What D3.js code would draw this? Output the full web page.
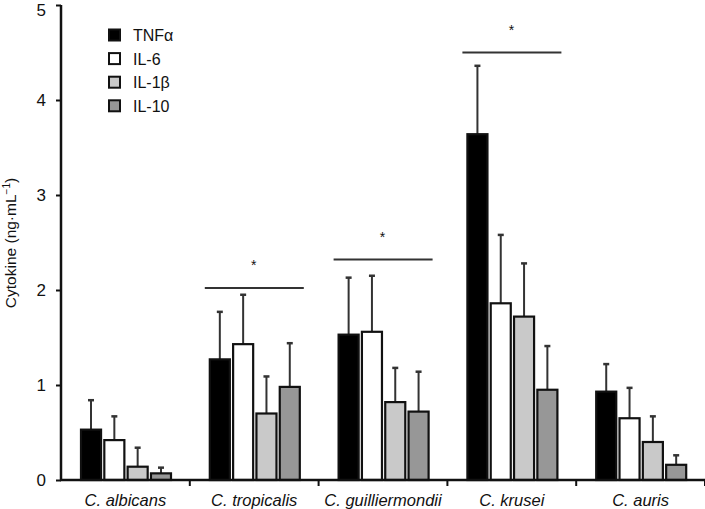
<!DOCTYPE html>
<html><head><meta charset="utf-8">
<script src="https://cdn.jsdelivr.net/npm/d3@7"></script>
<style>body{margin:0;background:#fff}svg{display:block}text{font-family:"Liberation Sans",Arial,sans-serif;fill:#111}</style>
</head><body><div id="chart"></div>
<script>
const categories = ["C. albicans","C. tropicalis","C. guilliermondii","C. krusei","C. auris"];
const seriesNames = ["TNFα","IL-6","IL-1β","IL-10"];
const seriesColors = ["#000000","#ffffff","#c9c9c9","#979797"];
const TNF = [0.53,1.27,1.53,3.64,0.93];
const IL6 = [0.42,1.43,1.56,1.86,0.65];
const IL1b = [0.14,0.70,0.82,1.72,0.40];
const IL10 = [0.07,0.98,0.72,0.95,0.16];
const TNFerr = [0.84,1.77,2.13,4.36,1.22];
const IL6err = [0.67,1.95,2.15,2.58,0.97];
const IL1berr = [0.34,1.09,1.18,2.28,0.67];
const IL10err = [0.13,1.44,1.14,1.41,0.26];
const sigCats = ["C. tropicalis","C. guilliermondii","C. krusei"];
const sigLevels = [2.02,2.32,4.50];
const yTicks = [0,1,2,3,4,5];

const values = [TNF,IL6,IL1b,IL10];
const errTops = [TNFerr,IL6err,IL1berr,IL10err];

const W=705,H=509;
const svg=d3.select("#chart").append("svg").attr("width",W).attr("height",H);
const x=d3.scaleBand().domain(categories).range([61,705]).padding(0);
const xi=d3.scaleBand().domain(seriesNames).range([20,110]).paddingInner(0.14);
const y=d3.scaleLinear().domain([0,5]).range([480,5]);

// bars
seriesNames.forEach((s,si)=>{
  const g=svg.append("g");
  categories.forEach((c,ci)=>{
    const bx=x(c)+xi(s), bw=xi.bandwidth();
    const cx=bx+bw/2;
    g.append("line").attr("x1",cx).attr("x2",cx).attr("y1",y(values[si][ci])).attr("y2",y(errTops[si][ci]))
      .attr("stroke","#333").attr("stroke-width",2);
    g.append("line").attr("x1",cx-3).attr("x2",cx+3).attr("y1",y(errTops[si][ci])).attr("y2",y(errTops[si][ci]))
      .attr("stroke","#333").attr("stroke-width",2.5);
    g.append("rect").attr("x",bx).attr("y",y(values[si][ci])).attr("width",bw).attr("height",y(0)-y(values[si][ci]))
      .attr("fill",seriesColors[si]).attr("stroke","#111").attr("stroke-width",2.2);
  });
});

// significance
sigCats.forEach((c,i)=>{
  svg.append("line").attr("x1",x(c)+15).attr("x2",x(c)+114).attr("y1",y(sigLevels[i])).attr("y2",y(sigLevels[i]))
    .attr("stroke","#333").attr("stroke-width",2);
  svg.append("text").attr("x",x(c)+64).attr("y",y(sigLevels[i])-18).attr("text-anchor","middle")
    .attr("font-size",14).text("*");
});

// y axis
const ya=svg.append("g").attr("transform","translate(61,0)")
  .call(d3.axisLeft(y).tickValues(yTicks).tickSize(5).tickPadding(10).tickFormat(d3.format("d")));
ya.select(".domain").attr("stroke","#111").attr("stroke-width",2.5).attr("d","M0,"+y(5)+"V"+y(0));
ya.selectAll(".tick line").attr("stroke","#111").attr("stroke-width",2);
ya.selectAll(".tick text").attr("font-size",17).attr("fill","#111").attr("font-family","Liberation Sans, Arial, sans-serif")
  .attr("dy",d=>d===5?"0.62em":"0.32em");

// x axis
const xa=svg.append("g").attr("transform","translate(0,"+y(0)+")")
  .call(d3.axisBottom(x).tickSize(0).tickPadding(14));
xa.select(".domain").attr("stroke","#111").attr("stroke-width",2.5).attr("d","M60,0H705");
xa.selectAll(".tick text").attr("font-size",16.5).attr("font-style","italic").attr("fill","#111")
  .attr("font-family","Liberation Sans, Arial, sans-serif");
categories.forEach(c=>{
  const bx=x(c)+x.bandwidth();
  svg.append("line").attr("x1",bx).attr("x2",bx).attr("y1",y(0)).attr("y2",y(0)+6).attr("stroke","#111").attr("stroke-width",2);
});

// y label
const yl=svg.append("text").attr("transform","translate(16,243) rotate(-90)").attr("text-anchor","middle")
  .attr("font-size",15.5);
yl.append("tspan").text("Cytokine (ng·mL");
yl.append("tspan").attr("font-size",10).attr("dy",-6).text("−1");
yl.append("tspan").attr("dy",6).text(")");

// legend
const lg=svg.append("g").attr("transform","translate(109,0)");
seriesNames.forEach((s,i)=>{
  const cy=35+i*23.6;
  lg.append("rect").attr("x",0).attr("y",cy-5.5).attr("width",11).attr("height",11)
    .attr("fill",seriesColors[i]).attr("stroke","#111").attr("stroke-width",2);
  lg.append("text").attr("x",24).attr("y",cy+6).attr("font-size",16).text(s);
});
</script></body></html>
